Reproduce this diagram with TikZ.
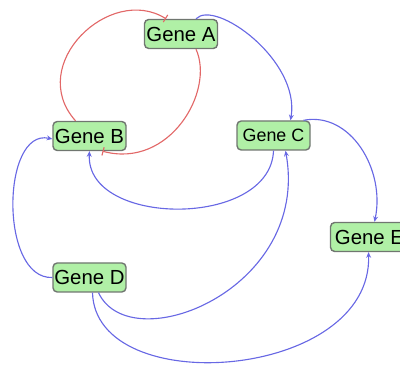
\documentclass[tikz,border=0pt]{standalone}
\usepackage{fontspec}
\setmainfont{Liberation Sans}
\usepackage{tikz}
\usetikzlibrary{arrows.meta}

\definecolor{genefill}{RGB}{176,240,166}
\definecolor{geneline}{RGB}{112,118,112}
\definecolor{inhib}{RGB}{226,104,104}
\definecolor{activ}{RGB}{104,104,228}

\begin{document}
\begin{tikzpicture}[
        gene/.style={draw=geneline, fill=genefill, line width=1pt, rounded corners=3pt,
                minimum width=1.825cm, minimum height=0.725cm, inner sep=0.5pt,
                font=\fontsize{14.5}{16}\selectfont},
        act/.style={draw=activ, line width=0.8pt, -{Stealth[length=4pt,width=3.5pt]}},
        rep/.style={draw=inhib, line width=0.8pt, -{Bar[width=6pt,line width=0.8pt]}}]
        \useasboundingbox (0,0) rectangle (10,9.1);
        \node[gene] (geneA) at (4.525,8.25) {Gene A};
        \node[gene] (geneB) at (2.2375,5.7) {Gene B};
        \node[gene, font=\fontsize{12.7}{14}\selectfont] (geneC) at (6.8375,5.7125) {Gene C};
        \node[gene] (geneD) at (2.2375,2.1625) {Gene D};
        \node[gene, minimum width=1.95cm] (geneE) at (9.2375,3.175) {Gene E};
        \draw[rep] ([xshift=0.375cm]geneA.south) .. controls +(0.475,-1.05) and +(1.675,-0.45) .. ([xshift=0.325cm]geneB.south);
        \draw[rep] ([xshift=-0.35cm]geneB.north) .. controls +(-1.25,1.4) and +(-1.4,0.875) .. ([xshift=-0.375cm]geneA.north);
        \draw[act] ([xshift=0.375cm]geneA.north) .. controls +(0.475,0.5) and +(0.25,1.5) .. ([xshift=0.425cm]geneC.north);
        \draw[act] ([xshift=0.75cm]geneC.north) .. controls +(1.175,0.225) and +(0.275,1.3) .. ([xshift=0.125cm]geneE.north);
        \draw[act] (geneC.south) .. controls +(-0.075,-1.95) and +(-0.1,-1.9) .. (geneB.south);
        \draw[act] ([xshift=0.225cm]geneD.south) .. controls +(0.8,-1.7) and +(0.625,-3.475) .. ([xshift=0.3cm]geneC.south);
        \draw[act] ([xshift=0.075cm]geneD.south) .. controls +(0.075,-2.7) and +(0.1,-3.2) .. ([xshift=-0.025cm]geneE.south);
        \draw[act] (geneD.west) .. controls +(-1.325,-0.05) and +(-1.275,0.275) .. ([yshift=-0.075cm]geneB.west);
\end{tikzpicture}
\end{document}
